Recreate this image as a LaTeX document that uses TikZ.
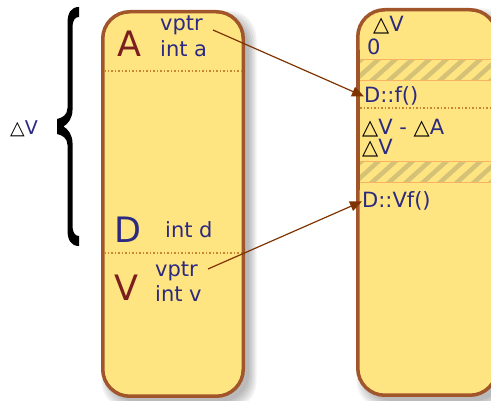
\documentclass[tikz,border=0pt]{standalone}
\usepackage{fontspec}
\setmainfont{DejaVu Sans}
\usetikzlibrary{arrows.meta}
\definecolor{boxfill}{HTML}{FFE482}
\definecolor{boxborder}{HTML}{A0552A}
\definecolor{textblue}{HTML}{2B2A80}
\definecolor{letterred}{HTML}{7A1E1E}
\definecolor{arrowbrown}{HTML}{7F3300}
\definecolor{dotcol}{HTML}{C9862E}
\definecolor{bandedge}{HTML}{F5B363}
\definecolor{stripecol}{HTML}{D6C277}
\newcommand{\mydelta}{\textcolor{black}{\textbf{△}}}
\begin{document}
\begin{tikzpicture}[x=1pt,y=-1pt,
  txt/.style={anchor=base west,inner sep=0pt,text=textblue,font=\fontsize{21}{21}\selectfont},
  big/.style={anchor=base west,inner sep=0pt,font=\fontsize{35}{35}\selectfont},
  membox/.style={draw=boxborder,fill=boxfill,line width=3.5pt,rounded corners=27pt,inner sep=0pt},
  sep/.style={draw=dotcol,line width=1.3pt,dash pattern=on 1.5pt off 2pt},
  ptr/.style={draw=arrowbrown,line width=1.2pt,-{Triangle[length=12pt,width=10pt]}},
  band/.style={draw=bandedge,line width=1pt}]
\useasboundingbox (0,0) rectangle (491,401);
\clip (0,0) rectangle (491,401);
% shadows
\begin{scope}[opacity=0.05]
  \foreach \i in {0,1.5,3,4.5,6,7.5}{
    \fill[black,rounded corners=28pt] (103+6-\i,12+6-\i) rectangle (243+6+\i,396+6+\i);
    \fill[black,rounded corners=28pt] (358+6-\i,10+6-\i) rectangle (497+6+\i,395+6+\i);
  }
\end{scope}
% boxes
\node[membox,minimum width=140.5pt,minimum height=384.5pt] (leftbox) at (173,204) {};
\node[membox,minimum width=139.25pt,minimum height=385.5pt] (rightbox) at (427.4,202.5) {};
% hatched bands in right box
\begin{scope}
  \clip (358,60) rectangle (497,80.5);
  \foreach \x in {300,317,...,500}{
    \draw[stripecol,line width=4.5pt] (\x,84) -- (\x+30,57);
  }
\end{scope}
\begin{scope}
  \clip (358,162) rectangle (497,183);
  \foreach \x in {300,317,...,500}{
    \draw[stripecol,line width=4.5pt] (\x,186) -- (\x+30,159);
  }
\end{scope}
\coordinate (b1t0) at (359.5,60);  \coordinate (b1t1) at (497,60);
\coordinate (b1b0) at (359.5,80.5);  \coordinate (b1b1) at (497,80.5);
\coordinate (b2t0) at (359.5,162); \coordinate (b2t1) at (497,162);
\coordinate (b2b0) at (359.5,183); \coordinate (b2b1) at (497,183);
\draw[band] (b1t0) -- (b1t1);
\draw[band] (b1b0) -- (b1b1);
\draw[band] (b2t0) -- (b2t1);
\draw[band] (b2b0) -- (b2b1);
% redraw right box left border over bands
\draw[boxborder,line width=3.5pt] (357.75,50) -- (357.75,190);
% dotted separators
\coordinate (l1a) at (104,71);  \coordinate (l1b) at (242,71);
\coordinate (l2a) at (104,253); \coordinate (l2b) at (242,253);
\coordinate (r1a) at (360,108); \coordinate (r1b) at (491,108);
\draw[sep] (l1a) -- (l1b);
\draw[sep] (l2a) -- (l2b);
\draw[sep] (r1a) -- (r1b);
% left box texts
\node[big,text=letterred] (A) at (117,57) {A};
\node[txt] (avptr) at (160,31) {vptr};
\node[txt] (inta) at (160,57) {int a};
\node[big,text=textblue] (D) at (114,243) {D};
\node[txt] (intd) at (165,238) {int d};
\node[big,text=letterred] (V) at (114,301) {V};
\node[txt] (vvptr) at (155,277) {vptr};
\node[txt] (intv) at (155,302) {int v};
% right box texts
\node[txt] (dv1) at (373,32) {\mydelta V};
\node[txt] (zero) at (367,55) {0};
\node[txt] (df) at (364,103) {D::f()};
\node[txt] (dvda) at (362,135) {\mydelta V - \mydelta A};
\node[txt] (dv2) at (362,155) {\mydelta V};
\node[txt] (dvf) at (362,208) {D::Vf()};
% brace and label
\fill[black] (79,7) -- (79,17)
  .. controls (75,17) and (72.5,20) .. (72.5,28)
  -- (72.5,110)
  .. controls (72.5,118) and (68,124) .. (63.5,126.5)
  .. controls (68,129) and (72.5,135) .. (72.5,143)
  -- (72.5,225)
  .. controls (72.5,233) and (75,236) .. (79,236)
  -- (79,246)
  .. controls (71,246) and (67.5,240) .. (67.5,230)
  -- (67.5,145)
  .. controls (67.5,138) and (62,135) .. (57,134)
  -- (57,119)
  .. controls (62,118) and (67.5,115) .. (67.5,108)
  -- (67.5,23)
  .. controls (67.5,13) and (71,7) .. (79,7) -- cycle;
\node[anchor=base west,inner sep=0pt,text=textblue,font=\fontsize{19}{19}\selectfont] (dvl) at (10,135) {\mydelta V};
% pointers
\coordinate (p1) at (213,30);
\coordinate (p2) at (208,269);
\draw[ptr] (p1) -- (df.west);
\draw[ptr] (p2) -- (dvf.west);
\end{tikzpicture}
\end{document}
